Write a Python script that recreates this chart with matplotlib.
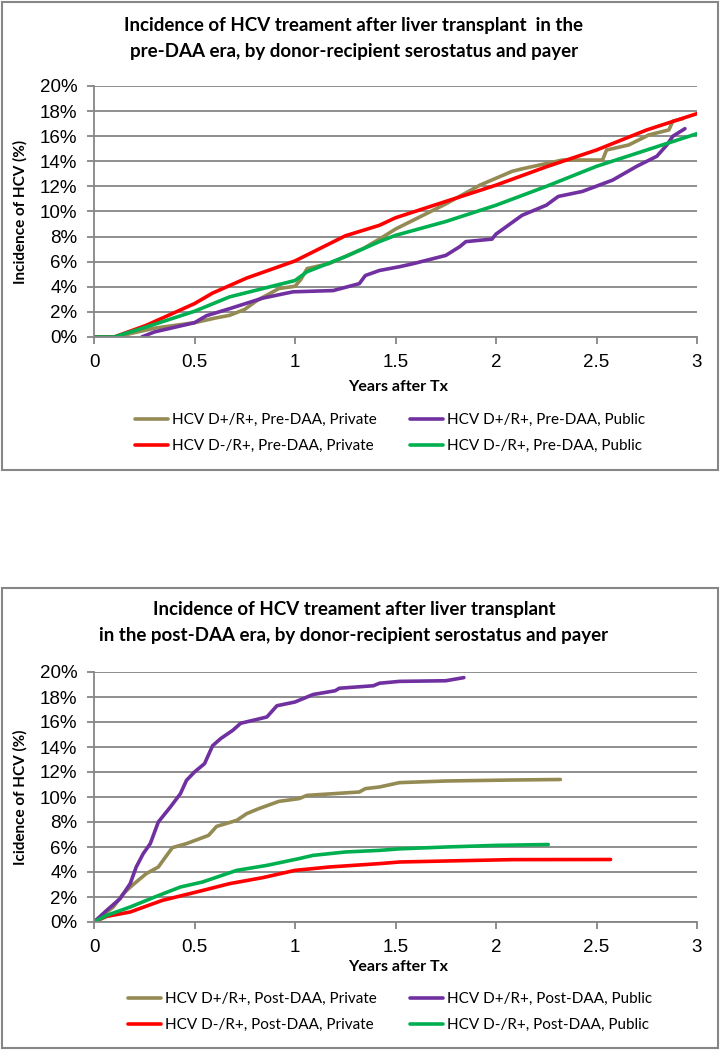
import matplotlib
matplotlib.use("Agg")
import matplotlib.pyplot as plt
from matplotlib.patches import Rectangle
from matplotlib.ticker import FuncFormatter

W, H = 722, 1050

# ---- data (years after Tx, incidence %) ----
years_ticks = [0, 0.5, 1, 1.5, 2, 2.5, 3]
pct_ticks = [0, 2, 4, 6, 8, 10, 12, 14, 16, 18, 20]

pre_tan_x = [0, 0.12, 0.18, 0.3, 0.5, 0.6, 0.675, 0.75, 0.81, 0.92, 1.0, 1.03, 1.06, 1.17, 1.34,
             1.42, 1.5, 1.75, 1.92, 2.08, 2.13, 2.33, 2.53, 2.55, 2.66, 2.76, 2.86, 2.88, 2.93]
pre_tan_y = [0, 0, 0.27, 0.7, 1.14, 1.5, 1.73, 2.2, 2.9, 3.86, 4.04, 4.6, 5.45, 5.85, 7.05,
             7.8, 8.6, 10.6, 12.1, 13.2, 13.4, 14.1, 14.1, 14.9, 15.3, 16.1, 16.5, 17.2, 17.4]

pre_purple_x = [0.237, 0.3, 0.5, 0.56, 0.675, 0.84, 0.99, 1.19, 1.32, 1.35, 1.42, 1.52, 1.59, 1.75,
                1.82, 1.85, 1.98, 2.0, 2.13, 2.25, 2.31, 2.43, 2.58, 2.70, 2.80, 2.85, 2.88, 2.94]
pre_purple_y = [0, 0.4, 1.14, 1.7, 2.26, 3.1, 3.6, 3.7, 4.25, 4.9, 5.3, 5.6, 5.85, 6.5,
                7.2, 7.6, 7.8, 8.2, 9.7, 10.5, 11.2, 11.6, 12.5, 13.6, 14.4, 15.3, 16.0, 16.6]

pre_red_x = [0, 0.1, 0.26, 0.5, 0.59, 0.76, 1.0, 1.25, 1.42, 1.5, 1.75, 2.0, 2.25, 2.5, 2.75, 3.0]
pre_red_y = [0, 0, 0.93, 2.66, 3.5, 4.7, 6.06, 8.06, 8.9, 9.5, 10.8, 12.1, 13.56, 14.9, 16.5, 17.8]

pre_green_x = [0, 0.1, 0.26, 0.5, 0.675, 1.0, 1.06, 1.25, 1.42, 1.5, 1.75, 2.0, 2.25, 2.5, 2.75, 3.0]
pre_green_y = [0, 0, 0.8, 2.05, 3.2, 4.5, 5.2, 6.4, 7.6, 8.1, 9.2, 10.5, 12.0, 13.6, 14.9, 16.2]

post_tan_x = [0, 0.096, 0.146, 0.19, 0.26, 0.32, 0.35, 0.39, 0.46, 0.57, 0.61, 0.71, 0.76, 0.82,
              0.92, 1.02, 1.06, 1.32, 1.35, 1.42, 1.52, 1.75, 2.08, 2.32]
post_tan_y = [0, 1.2, 2.27, 2.93, 3.87, 4.4, 5.07, 5.95, 6.27, 6.93, 7.65, 8.13, 8.67, 9.07,
              9.65, 9.87, 10.13, 10.4, 10.67, 10.8, 11.15, 11.28, 11.36, 11.4]

post_purple_x = [0, 0.063, 0.13, 0.18, 0.21, 0.245, 0.28, 0.32, 0.38, 0.43, 0.46, 0.5, 0.55, 0.59,
                 0.63, 0.69, 0.73, 0.86, 0.91, 1.0, 1.09, 1.2, 1.22, 1.39, 1.42, 1.52, 1.75, 1.84]
post_purple_y = [0, 0.93, 1.87, 3.07, 4.4, 5.47, 6.27, 8.0, 9.2, 10.27, 11.33, 12.0, 12.67, 14.1,
                 14.67, 15.33, 15.9, 16.4, 17.3, 17.6, 18.2, 18.5, 18.7, 18.9, 19.1, 19.25, 19.3, 19.55]

post_red_x = [0, 0.063, 0.18, 0.34, 0.51, 0.675, 0.84, 1.0, 1.17, 1.42, 1.52, 1.75, 2.08, 2.57]
post_red_y = [0, 0.45, 0.8, 1.73, 2.4, 3.07, 3.55, 4.13, 4.4, 4.67, 4.8, 4.88, 4.99, 5.0]

post_green_x = [0, 0.063, 0.18, 0.31, 0.43, 0.54, 0.71, 0.86, 1.02, 1.09, 1.25, 1.42, 1.52, 1.75, 2.0, 2.26]
post_green_y = [0, 0.53, 1.2, 2.05, 2.8, 3.2, 4.13, 4.53, 5.07, 5.33, 5.6, 5.73, 5.85, 6.0, 6.13, 6.2]

TAN, PURPLE, RED, GREEN = "#948A54", "#7030A0", "#FF0000", "#00B050"
GRID = "#868686"
NARROW = ["Lato", "DejaVu Sans"]
ARIAL = ["Liberation Sans", "DejaVu Sans"]


def fx(px):
    return px / W


def fy(py):
    return 1 - py / H


def panel(fig, box_top, box_bottom, ax_top, ax_bottom, title_lines, ylabel, series, label_ys):
    fig.patches.append(Rectangle((fx(2), fy(box_bottom)), fx(716), (box_bottom - box_top) / H,
                                 transform=fig.transFigure, fill=False, edgecolor=GRID, lw=1.5))
    ax = fig.add_axes([fx(94), fy(ax_bottom), fx(603), (ax_bottom - ax_top) / H])
    for x, y, color, label in series:
        ax.plot(x, y, color=color, lw=2.6, label=label, solid_capstyle="round", solid_joinstyle="round")
    ax.set_xlim(0, 3)
    ax.set_ylim(0, 20)
    ax.set_xticks(years_ticks)
    ax.set_yticks(pct_ticks)
    ax.xaxis.set_major_formatter(FuncFormatter(lambda v, _: f"{v:g}"))
    ax.yaxis.set_major_formatter(FuncFormatter(lambda v, _: f"{v:.0f}%"))
    ax.grid(axis="y", color=GRID, lw=1.3)
    ax.set_axisbelow(True)
    for side in ("top", "right"):
        ax.spines[side].set_visible(False)
    for side in ("left", "bottom"):
        ax.spines[side].set_color(GRID)
        ax.spines[side].set_linewidth(1.3)
    ax.tick_params(colors=GRID, width=1.3, length=5, labelcolor="black", labelsize=13.5, pad=7)
    for t in ax.get_xticklabels() + ax.get_yticklabels():
        t.set_family(ARIAL)
    ax.set_ylabel(ylabel, family=NARROW, fontweight="bold", fontsize=11)
    ax.yaxis.set_label_coords(fx(28 - 94) / fx(603), 0.5)

    for line, ty in zip(title_lines, label_ys["title"]):
        fig.text(fx(354), fy(ty), line, ha="center", va="center", family=NARROW,
                 fontweight="bold", fontsize=13.5)
    fig.text(fx(398), fy(label_ys["xlabel"]), "Years after Tx", ha="center", va="center",
             family=NARROW, fontweight="bold", fontsize=11.5)

    handles, labels = ax.get_legend_handles_labels()
    order = [0, 2, 1, 3]
    fig.legend([handles[i] for i in order], [labels[i] for i in order], ncol=2,
               loc="center", bbox_to_anchor=(fx(390), fy(label_ys["legend"])),
               frameon=False, prop={"family": NARROW, "size": 11}, handlelength=2.2,
               handletextpad=0.25, columnspacing=2.15, labelspacing=0.8)
    return ax


fig = plt.figure(figsize=(W / 100, H / 100), dpi=100)

panel(fig, 2, 470, 86, 337,
      ["Incidence of HCV treament after liver transplant  in the",
       "pre-DAA era, by donor-recipient serostatus and payer"],
      "Incidence of HCV (%)",
      [(pre_tan_x, pre_tan_y, TAN, "HCV D+/R+, Pre-DAA, Private"),
       (pre_purple_x, pre_purple_y, PURPLE, "HCV D+/R+, Pre-DAA, Public"),
       (pre_red_x, pre_red_y, RED, "HCV D-/R+, Pre-DAA, Private"),
       (pre_green_x, pre_green_y, GREEN, "HCV D-/R+, Pre-DAA, Public")],
      {"title": [26, 51], "xlabel": 387, "legend": 433})

panel(fig, 588, 1048, 672, 922,
      ["Incidence of HCV treament after liver transplant",
       "in the post-DAA era, by donor-recipient serostatus and payer"],
      "Icidence of HCV (%)",
      [(post_tan_x, post_tan_y, TAN, "HCV D+/R+, Post-DAA, Private"),
       (post_purple_x, post_purple_y, PURPLE, "HCV D+/R+, Post-DAA, Public"),
       (post_red_x, post_red_y, RED, "HCV D-/R+, Post-DAA, Private"),
       (post_green_x, post_green_y, GREEN, "HCV D-/R+, Post-DAA, Public")],
      {"title": [610, 635], "xlabel": 967, "legend": 1012})

fig.savefig("out.png", dpi=100)
